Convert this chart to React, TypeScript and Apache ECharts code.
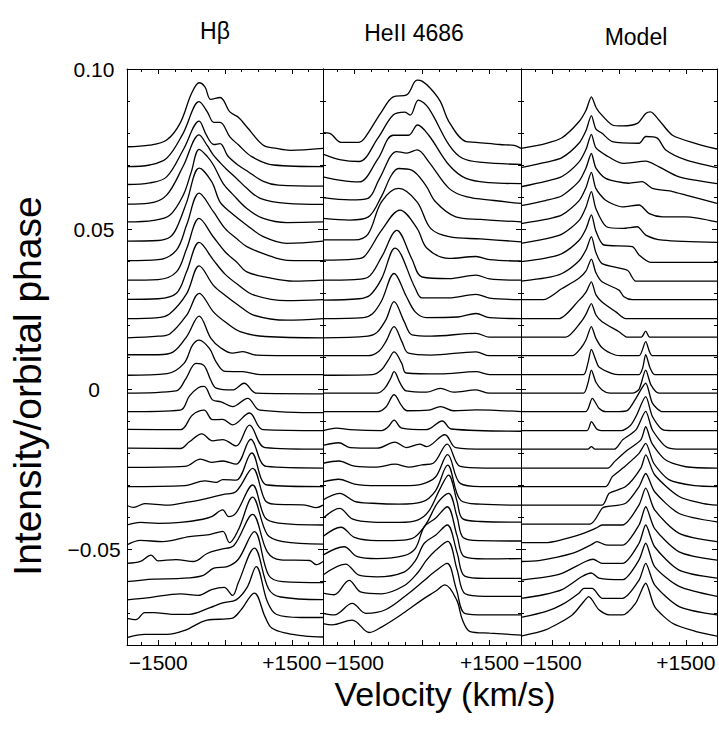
import React, { useEffect, useRef } from "react";
import * as echarts from "echarts";

// Offsets (orbital phase) of each spectrum, top to bottom
const phases = [
  0.0746, 0.0688, 0.0629, 0.0571, 0.0512, 0.0454, 0.0396, 0.0337, 0.0279,
  0.022, 0.0162, 0.0104, 0.0045, -0.0013, -0.0071, -0.013, -0.0188, -0.0247,
  -0.0305, -0.0363, -0.0422, -0.048, -0.0539, -0.0597, -0.0655, -0.0714, -0.0772,
];

// Each spectrum: [velocity km/s, intensity above offset (x1e-3), ...]
const hbeta: number[][] = [
  [-2200,1.1,-1690,1.6,-1310,3.2,-1010,8.4,-750,17.8,-580,21.1,-450,19.8,-320,15.9,-110,16.5,110,12,300,10.3,520,6.8,860,1.6,1160,0.6,1460,0,2200,0.6],
  [-2200,0.7,-1690,1.2,-1310,3.3,-940,11.1,-580,21,-400,17.9,-250,14.5,-110,14.5,110,10,300,7.5,600,3.8,1090,1.2,2200,0.7],
  [-2200,1,-1690,1.5,-1310,3.4,-940,11.8,-580,20.8,-420,16.5,-250,13.5,-110,13.8,60,10,300,7,520,5,860,2,1200,0.8,2200,0.5],
  [-2200,0.7,-1700,1,-1310,3.5,-940,12.5,-580,22.3,-400,19,-260,16,-100,13.5,40,11.5,260,8.7,490,5.6,790,2.5,1390,0.9,2200,0.6],
  [-2200,1,-1600,1.5,-1240,3.1,-940,9.3,-760,16.5,-580,23.7,-400,21.5,-260,18.8,-40,13,190,9.4,490,5.2,860,2.1,1390,0.8,2200,1],
  [-2200,0.8,-1500,1,-1240,2,-1090,4.8,-860,13,-580,23.6,-300,19.4,-110,13,110,10,490,5.8,860,2.2,1390,0.1,2200,0.8],
  [-2200,0.5,-1500,0.8,-1090,3.8,-860,11.7,-580,21.6,-260,15.8,0,10.6,260,7.4,490,4.9,940,2.3,1390,0.6,2200,0.5],
  [-2200,0.3,-1500,0.5,-1090,2.9,-860,10.2,-580,19.6,-260,13.8,0,9.2,260,6,490,2.9,1010,1,1540,0,2200,0.3],
  [-2200,0.1,-1500,0.3,-1090,2,-860,8.8,-580,17.9,-260,12.4,0,8,300,4.6,640,1.5,1390,-0.3,2200,0],
  [-2200,0,-1500,0.3,-1240,1.5,-860,7.8,-580,16.5,-260,10.4,0,7.3,300,4.2,640,1.1,1390,-0.5,2200,0],
  [-2200,-0.2,-1500,0.3,-1240,1,-860,6.9,-580,13.7,-260,7.9,0,4.8,340,1.7,900,0.2,2200,-0.2],
  [-2200,0.3,-1500,0.3,-1160,1.2,-860,6,-580,12.4,-320,5.5,-100,2.5,170,0.8,400,1.3,700,0.2,2200,0],
  [-2200,-0.2,-1300,0.3,-920,3.5,-730,9.2,-580,10.8,-350,8.2,-200,4,0,1,400,0.9,800,0,2200,0],
  [-2200,0,-1100,0.7,-880,4.5,-650,9.3,-470,8.6,-320,4.1,-200,1.6,170,1,430,3.1,700,0,2200,-0.2],
  [-2200,0,-1000,0.5,-800,4.9,-600,7.5,-470,7.9,-280,3.7,-90,3.1,170,1.6,510,4.2,780,0.5,2200,-0.3],
  [-2200,0.4,-1000,0.3,-730,4.9,-470,6.4,-280,3.4,-50,3.5,170,1.8,550,5.5,850,0.3,2200,0],
  [-2200,0.3,-1000,0.2,-800,2.3,-520,4.8,-280,2.6,-50,3,250,1,550,7.5,900,0.5,2200,0],
  [-2200,0.2,-900,0.5,-550,2.8,-300,1.8,-50,2.2,250,1.2,580,9,930,0.5,2200,0],
  [-2200,0,-900,0.3,-450,1.8,-200,1.3,-50,2.2,250,2,600,10.5,950,0.5,2200,0],
  [-2200,-0.1,-2050,-0.7,-1800,0.5,-1300,0,-900,0.8,-600,1.5,-350,2.3,-50,3.3,250,4.3,620,11.5,900,1.5,1100,0.3,1800,0,2050,-0.8,2200,0],
  [-2200,-0.3,-1900,0.5,-1500,0.2,-1000,0.5,-500,1.5,-300,2.3,-50,4.4,80,2.3,250,3.5,620,12.2,900,2,1200,0.3,2200,-0.3],
  [-2200,-0.7,-1900,0.7,-1400,0.3,-800,1.9,-350,2.5,-50,3.5,100,0,300,4,620,14.2,950,2.5,1300,0.3,2200,-0.5],
  [-2200,-0.6,-1900,0,-1660,2,-1500,0.2,-1100,0.6,-700,0,-400,2.5,-100,3.8,200,5,620,14.7,950,3,1250,0.5,1900,0.3,2050,-1,2200,0],
  [-2200,-0.5,-1600,0.3,-1000,0.5,-500,1.4,-250,3.7,50,4.2,300,6.5,660,15.1,980,1.5,1300,-0.5,2200,-0.8],
  [-2200,-0.4,-1700,0.3,-1000,1.5,-600,1,-300,2.8,-20,3.5,170,1,300,5,660,15.8,980,3,1250,0.5,2200,-0.3],
  [-2200,-0.3,-2000,-0.7,-1800,1.5,-1600,1.5,-1200,1,-800,1,-350,3,-50,4.6,250,5.5,500,9.5,700,15.9,950,5,1150,1,1700,0,2200,0],
  [-2200,-0.5,-1800,0.5,-1300,0.5,-900,1.8,-400,5,150,5.5,350,8,660,13.4,900,6,1050,2.5,1400,0.8,1800,0,2200,-0.3],
];

const heII: number[][] = [
  [-2200,5.5,-2050,5.3,-1800,2.5,-1400,2.5,-1280,3.7,-900,12,-640,16.7,-340,17.3,-110,21.9,0,21.6,190,19.3,410,15.2,600,8.9,980,2.7,1200,2.5,1730,1.8,2050,1.5,2200,0.6],
  [-2200,4.6,-1800,2.8,-1400,2.3,-980,9.6,-640,16.8,-380,17.7,-260,16.8,-80,21.5,150,18.9,600,7.5,900,3.3,1350,2,2200,1.4],
  [-2200,3.4,-1800,2.3,-1400,1.8,-980,9,-640,16.4,-300,16.4,-100,19.6,150,16.4,600,7.1,980,2.9,1500,1.6,2200,1.3],
  [-2200,2.7,-1600,2,-1200,2.5,-950,8.5,-560,17.1,-340,16.6,-110,17.6,150,13.9,600,5.6,980,3,1600,1.8,2200,0.9],
  [-2200,2.1,-1600,1.6,-1200,2.5,-900,9,-680,15.6,-520,17.7,-230,17.2,80,12.5,300,7.3,750,2.6,1300,1.8,2200,1],
  [-2200,1.2,-1500,1.2,-1200,3,-900,13.1,-520,17.3,-110,13.1,190,4.8,600,2.2,1300,1.5,2200,0.6],
  [-2200,0.7,-1500,1,-1280,1.8,-900,10,-490,16.3,-110,10.6,110,4.4,600,1.2,1200,1.8,1500,0.8,2200,0.4],
  [-2200,0.3,-1500,0.5,-1200,1.2,-900,7.5,-560,15.9,-230,7.1,0,1.3,600,0.8,1200,1.9,1500,0.7,2200,0.3],
  [-2200,-0.1,-1400,0.3,-1150,1.5,-900,6.5,-600,16.1,-150,3.6,0,0.6,600,0.6,1200,1.7,1500,0.5,2200,0],
  [-2200,0,-1300,0.3,-1100,1.5,-900,5.5,-620,14.1,-350,7,-150,2.1,100,0.3,800,0.5,1200,1.6,1500,0.3,2200,0],
  [-2200,-0.2,-1200,0.3,-1000,1.5,-800,5.5,-620,11.1,-400,5,-220,0.7,200,0.3,1200,1.2,1500,0,2200,0],
  [-2200,0,-1200,0,-950,1.5,-800,4.5,-620,9.1,-450,4.5,-300,0.8,200,0.2,1200,1.2,1500,0,2200,0],
  [-2200,-0.2,-1100,0,-900,1.5,-750,4.5,-620,7.1,-450,3.5,-350,0.5,400,0.2,1200,0.9,1500,0,2200,0],
  [-2200,0,-1000,0,-830,1.5,-700,4.5,-620,6.7,-480,3,-350,0.7,100,0.3,410,1.5,700,0.3,1200,1,1500,0,2200,0],
  [-2200,0,-1000,0,-800,1.5,-620,5.3,-450,1.8,-330,0.3,150,0.5,410,1.6,700,0.3,1200,0.6,2200,0],
  [-2200,0,-1900,0.8,-1600,0.3,-900,0,-750,1.2,-620,3.3,-450,0.8,100,0.3,450,3,650,0.5,2200,-0.2],
  [-2200,1.2,-1850,2,-1600,0.5,-1000,0.3,-600,2.2,-350,0.5,-50,1.6,100,0.8,510,4.5,750,0.5,1400,0,2200,0],
  [-2200,1.5,-1850,2.2,-1500,0.6,-1000,0.3,-600,1.2,-300,0.3,0,1,250,1.5,560,7.5,850,0.5,1400,0,2200,0],
  [-2200,1.5,-1850,2.3,-1500,0.8,-1000,0.3,-400,0.3,0,0.8,300,3,570,10,850,1,1300,0,2200,0],
  [-2200,1.6,-1830,3.7,-1500,1.2,-1100,0.6,-500,0.3,0,1,300,4.5,570,12.5,860,1.5,1300,0.3,2200,0],
  [-2200,1.8,-1830,4.9,-1550,1.6,-1100,0.6,-500,0.5,-100,1.2,150,4,400,11,590,15.3,780,7,900,1.7,1300,0.8,2200,0.6],
  [-2200,1.9,-1800,4.8,-1500,1.6,-1000,0.6,-400,0.8,-150,1.8,100,6,350,12.5,590,15.4,780,8,920,1.5,1300,0.6,2200,0.5],
  [-2200,2,-1730,4.6,-1450,1.6,-1000,0.9,-400,1.8,-150,4,50,10.8,300,13.5,560,17.1,780,8,940,1.5,1400,0.8,2200,0.9],
  [-2200,1.6,-1700,5,-1400,1.5,-1000,1,-400,2.5,-150,6,50,11.5,300,14,560,17.2,780,8.5,950,1.2,1400,0.5,2200,0.5],
  [-2200,1.7,-1950,1.2,-1620,5.7,-1350,2,-900,1.5,-400,4,-100,8,100,12,300,15,570,17.9,780,9,960,1.5,1400,0.7,2200,0.7],
  [-2200,1.3,-1950,0.8,-1550,4.4,-1250,1.3,-800,2.5,-300,7.5,0,11,300,14.5,560,16.9,760,9,960,1.2,1400,0.8,2200,0.8],
  [-2200,3.9,-2000,3.5,-1550,5,-1170,1.1,-900,2.8,-420,7.1,0,11.3,300,14,510,16,770,11.3,900,5,1070,1.4,1500,0.9,2200,0.3],
];

const model: number[][] = [
  [-2200,0.6,-1650,2.1,-1280,3.9,-900,8.9,-740,12.5,-620,16.7,-520,13.5,-450,12,-150,7.9,80,7.6,410,8.4,600,11.5,710,12,900,9.4,1200,4.7,1730,2.1,2200,0.4],
  [-2200,0.4,-1650,2,-1280,3.5,-900,8,-740,12,-620,16.6,-520,12.5,-380,11.1,-150,8.5,450,8,600,10.1,860,9.6,1050,5.9,1500,2.8,2200,0.4],
  [-2200,0.3,-1650,2,-1280,3.5,-900,8,-740,12,-620,16.7,-520,12.5,-300,10.2,80,7.6,600,8.3,900,6.5,1350,3.4,2200,1.3],
  [-2200,0.2,-1650,1.8,-1280,3.3,-900,7.8,-740,12,-620,16.5,-520,12,-300,8.7,220,7.2,520,7.7,750,5.6,1200,4.6,1500,3.5,2200,0.9],
  [-2200,0.5,-1650,1.8,-1280,3.2,-900,7.6,-740,11.8,-620,16.5,-520,11.5,-300,7.8,80,5.7,450,6.3,680,3.6,980,2.6,1500,2.6,2200,1],
  [-2200,0.1,-1650,1.5,-1280,3,-900,7.2,-740,11.5,-620,16.3,-520,11,-280,5.3,80,4.8,410,5.3,600,2.7,980,1.1,2200,0.4],
  [-2200,0.2,-1650,1.3,-1280,2.7,-900,6.8,-740,10.5,-620,14.8,-520,9.8,-340,5.4,300,4.9,450,2.3,710,0,2200,0],
  [-2200,0,-1650,1,-1280,2.4,-900,6.3,-740,9.8,-620,13.9,-520,9,-380,5.5,190,3.4,380,0,2200,0],
  [-2200,0,-1700,0,-1280,3.5,-900,6.7,-740,9,-620,12.7,-520,8.5,-380,5.6,0,3,110,0.9,300,0,2200,0],
  [-2200,0,-1350,0,-900,5.7,-740,8.3,-620,11.5,-520,7.5,-380,5.2,-70,2.1,150,0,2200,0],
  [-2200,0,-1200,0,-850,4.8,-740,7.2,-620,10.5,-520,7,-380,4.8,0,1.7,190,0,500,0,600,1.9,690,0,2200,0],
  [-2200,0,-1050,0,-850,2.5,-740,5,-620,9.1,-520,5.5,-380,2.5,-100,0.3,100,0,450,0,600,4.4,750,0,2200,0],
  [-2200,0,-800,0,-700,3.5,-620,7.9,-520,4.5,-450,2.4,-150,0.3,0,0,450,0,530,2,600,6.2,700,2,800,0,2200,0],
  [-2200,0,-800,0,-700,3,-620,7.2,-520,3.5,-380,1,-200,0,300,0,450,1.2,600,7.2,720,2.5,900,0,2200,0],
  [-2200,0,-750,0,-600,4.2,-450,1.1,-300,0,0,0,200,0.5,380,4.2,600,8.9,750,2.7,980,0,2200,0],
  [-2200,0,-720,0,-620,2.8,-500,0.5,-400,0,50,0,250,1.5,380,4.4,600,10.6,750,4.4,980,0.3,1200,0,2200,0],
  [-2200,0,-700,0,-620,0.8,-540,0,-100,0,80,2.9,380,6,600,11.8,750,6,1050,0.8,1300,0,2200,0],
  [-2200,0,-250,0,-100,2,190,5.6,490,8.8,600,12.9,740,7.7,1050,2.5,1500,0.4,2200,0],
  [-2200,0,-300,0,-150,3.1,80,5.7,450,10.4,600,13.5,780,7.3,1130,2.1,1700,0.3,2200,0],
  [-2200,0,-380,0,-220,3.7,150,5.8,490,11.6,600,15.7,800,9.5,1350,2.7,1900,0.5,2200,0],
  [-2200,0,-650,0,-380,4.9,-300,5.4,150,6.5,450,11.7,600,15.8,800,10.1,1350,3.3,2200,0.7],
  [-2200,0,-1650,0,-900,2.4,-520,4.5,-380,5.5,80,5.5,450,11.8,600,17,800,10.2,1350,2.9,2200,0.3],
  [-2200,0,-1800,0.3,-1050,2.5,-640,5.1,-490,6.2,-300,5.2,80,5.1,450,11.4,600,17.1,800,10.3,1350,3,2200,0.4],
  [-2200,0,-1700,0.8,-1280,2.1,-750,5.8,-580,6.5,-380,5.2,80,5.2,450,11.5,600,17.2,800,10.4,1350,3.1,2200,0.6],
  [-2200,0.1,-1700,1.2,-1280,2.8,-830,6.9,-620,8,-450,6.4,80,5.9,450,12.1,600,17.3,800,10,1350,3.8,2200,0.7],
  [-2200,0,-1650,1.8,-1280,4,-900,7.6,-790,9.1,-600,9.1,-380,6,80,6,450,11.7,600,16.9,800,10.2,1350,3.4,2200,0.8],
  [-2200,0,-1650,1.9,-1050,6.6,-790,10.8,-680,12.3,-450,8.2,-220,6.6,80,6.6,370,10.2,600,16.5,800,9.2,1200,4,1730,1.4,2200,0],
];

const panelTitles = ["H\u03b2", "HeII 4686", "Model"];
const xLabelValues = [-1500, 1500];
const xMajorTicks = [-1500, 0, 1500];
const xMinorTicks = [-1875, -1125, -750, -375, 375, 750, 1125, 1875];
const yLabelValues = [0.1, 0.05, 0, -0.05];
const yMajorTicks = [-0.05, 0, 0.05];
const yMinorTicks = [-0.07, -0.06, -0.04, -0.03, -0.02, -0.01, 0.01, 0.02, 0.03, 0.04, 0.06, 0.07, 0.08, 0.09];

const FONT = "Liberation Sans, Arial, Helvetica, sans-serif";

function toData(spec: number[], phase: number) {
  const out: number[][] = [];
  for (let k = 0; k < spec.length; k += 2) out.push([spec[k], phase + spec[k + 1] / 1000]);
  return out;
}

function buildOption() {
  const grids = [
    { left: 127, width: 196, top: 69, height: 576 },
    { left: 323, width: 198, top: 69, height: 576 },
    { left: 521, width: 196, top: 69, height: 576 },
  ];
  const lineCol = "#000";
  const xAxes: any[] = [];
  const yAxes: any[] = [];
  const series: any[] = [];
  const datasets = [hbeta, heII, model];
  const titleX = [215, 414, 636];
  const titleY = [31, 33, 37];

  grids.forEach((g, i) => {
    const base = { gridIndex: i, type: "value", min: -2200, max: 2200, splitLine: { show: false } };
    const axLine = { show: true, onZero: false, lineStyle: { color: lineCol, width: 1 } };
    const noLine = { show: false, onZero: false };
    xAxes.push({
      ...base, position: "bottom", axisLine: axLine,
      axisTick: { show: true, inside: true, length: 5, customValues: xMajorTicks, lineStyle: { color: lineCol } },
      axisLabel: {
        show: true, customValues: xLabelValues, margin: 7, color: "#000", fontSize: 21, fontFamily: FONT,
        formatter: (v: number) => (v < 0 ? "\u2212" + Math.abs(v) : "+" + v),
      },
    });
    xAxes.push({
      ...base, position: "bottom", axisLine: noLine,
      axisTick: { show: true, inside: true, length: 3, customValues: xMinorTicks, lineStyle: { color: lineCol } },
      axisLabel: { show: false },
    });
    xAxes.push({
      ...base, position: "top", axisLine: axLine,
      axisTick: { show: true, inside: true, length: 5, customValues: xMajorTicks, lineStyle: { color: lineCol } },
      axisLabel: { show: false },
    });
    xAxes.push({
      ...base, position: "top", axisLine: noLine,
      axisTick: { show: true, inside: true, length: 3, customValues: xMinorTicks, lineStyle: { color: lineCol } },
      axisLabel: { show: false },
    });

    const ybase = { gridIndex: i, type: "value", min: -0.08, max: 0.1, splitLine: { show: false } };
    yAxes.push({
      ...ybase, position: "left", axisLine: axLine,
      axisTick: { show: true, inside: true, length: 5, customValues: yMajorTicks, lineStyle: { color: lineCol } },
      axisLabel: {
        show: i === 0, customValues: yLabelValues, margin: 33, align: "center", color: "#000", fontSize: 21, fontFamily: FONT,
        formatter: (v: number) => (Math.abs(v) < 1e-9 ? "0" : v < 0 ? "\u2212" + Math.abs(v).toFixed(2) : v.toFixed(2)),
      },
    });
    yAxes.push({
      ...ybase, position: "left", axisLine: noLine,
      axisTick: { show: true, inside: true, length: 3, customValues: yMinorTicks, lineStyle: { color: lineCol } },
      axisLabel: { show: false },
    });
    yAxes.push({
      ...ybase, position: "right", axisLine: axLine,
      axisTick: { show: true, inside: true, length: 5, customValues: yMajorTicks, lineStyle: { color: lineCol } },
      axisLabel: { show: false },
    });
    yAxes.push({
      ...ybase, position: "right", axisLine: noLine,
      axisTick: { show: true, inside: true, length: 3, customValues: yMinorTicks, lineStyle: { color: lineCol } },
      axisLabel: { show: false },
    });

    datasets[i].forEach((spec, j) => {
      series.push({
        type: "line",
        xAxisIndex: i * 4,
        yAxisIndex: i * 4,
        data: toData(spec, phases[j]),
        symbol: "none",
        smooth: i === 2 ? 0.25 : 0.35,
        silent: true,
        clip: true,
        lineStyle: { color: "#000", width: 1.3 },
      });
    });
  });

  const graphic: any[] = panelTitles.map((t, i) => ({
    type: "text",
    x: titleX[i],
    y: titleY[i],
    style: { text: t, fill: "#000", font: `23px ${FONT}`, textAlign: "center", textVerticalAlign: "middle" },
  }));
  graphic.push({
    type: "text", x: 27, y: 386, rotation: Math.PI / 2,
    style: { text: "Intensity/orbital phase", fill: "#000", font: `39px ${FONT}`, textAlign: "center", textVerticalAlign: "middle" },
  });
  graphic.push({
    type: "text", x: 445, y: 694,
    style: { text: "Velocity (km/s)", fill: "#000", font: `34px ${FONT}`, textAlign: "center", textVerticalAlign: "middle" },
  });

  return {
    animation: false,
    backgroundColor: "#fff",
    grid: grids,
    xAxis: xAxes,
    yAxis: yAxes,
    series,
    graphic,
  };
}

export default function App() {
  const ref = useRef<HTMLDivElement>(null);
  useEffect(() => {
    if (!ref.current) return;
    const chart = echarts.init(ref.current, undefined, { renderer: "svg" });
    chart.setOption(buildOption() as any);
    return () => chart.dispose();
  }, []);
  return <div ref={ref} style={{ position: "fixed", left: 0, top: 0, width: 719, height: 731 }} />;
}
